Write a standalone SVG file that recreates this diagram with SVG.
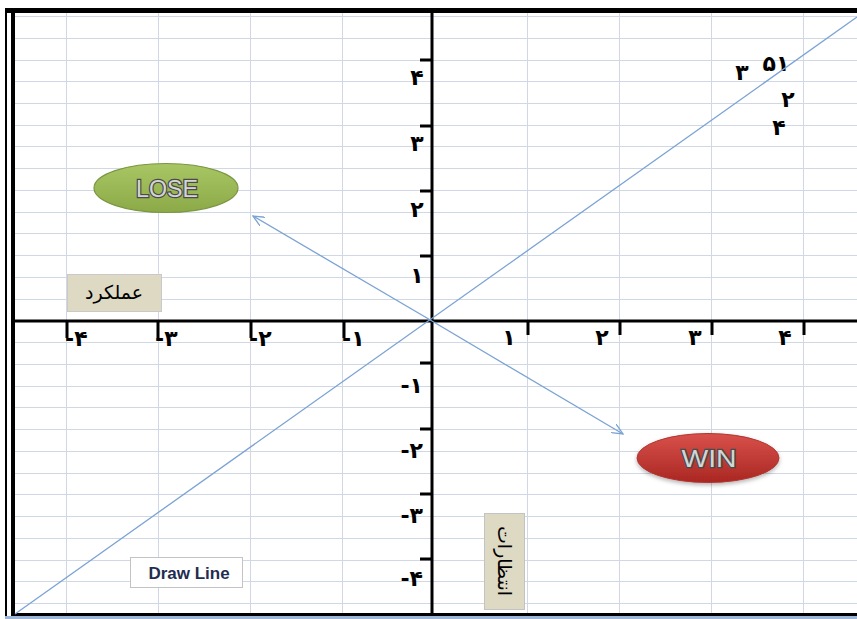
<svg xmlns="http://www.w3.org/2000/svg" width="857" height="619" viewBox="0 0 857 619">
<defs>
<style>
.grid{stroke:#D0D7E5;stroke-width:1;fill:none}
.axis{stroke:#000;stroke-width:3;fill:none}
.tick{stroke:#000;stroke-width:3;fill:none}
.num{font-family:"DejaVu Sans",sans-serif;font-weight:bold;font-size:22px;fill:#000}
.conn{stroke:#7BA3D4;stroke-width:1.3;fill:none}
.big{font-family:"Liberation Sans",Arial,sans-serif;font-size:23px;fill:#d4d4d4;stroke:#4a4a4a;stroke-width:2.4;paint-order:stroke;text-anchor:middle}
.fa{font-family:"DejaVu Sans",sans-serif;font-size:19px;fill:#000;text-anchor:middle}
</style>
<marker id="arr" viewBox="0 0 12 10" refX="11" refY="5" markerWidth="12" markerHeight="10" markerUnits="userSpaceOnUse" orient="auto">
<path d="M0,0 L11,5 L0,10" fill="none" stroke="#7BA3D4" stroke-width="1.3"/>
</marker>
<linearGradient id="gGreen" x1="0" y1="0" x2="0" y2="1">
<stop offset="0" stop-color="#A9C664"/><stop offset="1" stop-color="#8BAA47"/>
</linearGradient>
<linearGradient id="gRed" x1="0" y1="0" x2="0" y2="1">
<stop offset="0" stop-color="#D9514B"/><stop offset="1" stop-color="#A92722"/>
</linearGradient>
<filter id="sh" x="-20%" y="-30%" width="140%" height="170%">
<feDropShadow dx="0" dy="2" stdDeviation="2" flood-color="#000" flood-opacity="0.3"/>
</filter>
</defs>
<rect width="857" height="619" fill="#fff"/>
<g id="grid">
<path class="grid" d="M66.5,13V613M158.5,13V613M250.5,13V613M342.5,13V613M527.5,13V613M619.5,13V613M711.5,13V613M803.5,13V613"/>
<path class="grid" d="M15,16.5H857M15,38.5H857M15,60.5H857M15,81.5H857M15,103.5H857M15,125.5H857M15,146.5H857M15,168.5H857M15,190.5H857M15,212.5H857M15,233.5H857M15,255.5H857M15,277.5H857M15,299.5H857M15,342.5H857M15,364.5H857M15,386.5H857M15,407.5H857M15,429.5H857M15,451.5H857M15,473.5H857M15,494.5H857M15,516.5H857M15,538.5H857M15,560.5H857M15,581.5H857M15,603.5H857"/>
</g>
<g id="frame">
<rect x="5" y="8" width="852" height="5" fill="#000"/>
<rect x="5" y="8" width="2" height="610" fill="#000"/>
<rect x="11" y="8" width="4" height="608" fill="#000"/>
<rect x="11" y="613" width="846" height="3" fill="#000"/>
<rect x="5" y="616" width="852" height="3" fill="#9DB5D6"/>
</g>
<g id="axes">
<path class="axis" d="M15,321H857"/>
<path class="axis" d="M432,13V613"/>
<path class="tick" d="M67,322V338M158,322V338M251,322V338M344,322V338"/>
<path class="tick" d="M528,320V335M620,320V335M712,320V335M804,320V335"/>
<path class="tick" d="M420,60H432M420,126H432M420,191H432M420,256H432"/>
<path class="tick" d="M420,363H432M420,429H432M420,494H432M420,559H432"/>
</g>
<g id="x-labels">
<text class="num" x="65" y="346">-۴</text>
<text class="num" x="155" y="346">-۳</text>
<text class="num" x="249" y="346">-۲</text>
<text class="num" x="342" y="346">-۱</text>
<text class="num" x="509" y="345" text-anchor="middle">۱</text>
<text class="num" x="602" y="345" text-anchor="middle">۲</text>
<text class="num" x="695" y="345" text-anchor="middle">۳</text>
<text class="num" x="785" y="345" text-anchor="middle">۴</text>
</g>
<g id="y-labels">
<text class="num" x="417" y="85" text-anchor="middle">۴</text>
<text class="num" x="417" y="151" text-anchor="middle">۳</text>
<text class="num" x="417" y="217" text-anchor="middle">۲</text>
<text class="num" x="417" y="283" text-anchor="middle">۱</text>
<text class="num" x="423" y="393" text-anchor="end">-۱</text>
<text class="num" x="423" y="458" text-anchor="end">-۲</text>
<text class="num" x="423" y="523" text-anchor="end">-۳</text>
<text class="num" x="423" y="586" text-anchor="end">-۴</text>
</g>
<g id="points">
<text class="num" x="742" y="80" text-anchor="middle">۳</text>
<text class="num" x="776" y="71" text-anchor="middle">۵۱</text>
<text class="num" x="788" y="107" text-anchor="middle">۲</text>
<text class="num" x="779" y="135" text-anchor="middle">۴</text>
</g>
<g id="connectors">
<path class="conn" d="M15,614L857,17"/>
<path class="conn" d="M432,321L253,216" marker-end="url(#arr)"/>
<path class="conn" d="M432,321L623,434" marker-end="url(#arr)"/>
</g>
<g id="lose">
<ellipse cx="166" cy="188" rx="72" ry="24.5" fill="url(#gGreen)" stroke="#7B9642" stroke-width="1.2"/>
<text class="big" x="167" y="197" textLength="62" lengthAdjust="spacingAndGlyphs">LOSE</text>
</g>
<g id="win">
<ellipse cx="708" cy="458" rx="71" ry="24.5" fill="url(#gRed)" stroke="#B03530" stroke-width="1" filter="url(#sh)"/>
<text class="big" x="709" y="467" textLength="55" lengthAdjust="spacingAndGlyphs">WIN</text>
</g>
<g id="amalkard">
<rect x="67.5" y="274.5" width="94" height="37" fill="#DDD9C3" stroke="#C9C9C9"/>
<text class="fa" x="114" y="299">عملکرد</text>
</g>
<g id="entezarat">
<rect x="484.5" y="513.5" width="40" height="96" fill="#DDD9C3" stroke="#C3C3C3"/>
<text class="fa" transform="translate(504,561) rotate(90)" x="0" y="6">انتظارات</text>
</g>
<g id="drawline">
<rect x="130.5" y="557.5" width="112" height="30" fill="#fff" stroke="#C3C3C3"/>
<text x="189" y="579" text-anchor="middle" font-family="Liberation Sans,Arial,sans-serif" font-weight="bold" font-size="17" fill="#1F2D50">Draw Line</text>
</g>
</svg>
